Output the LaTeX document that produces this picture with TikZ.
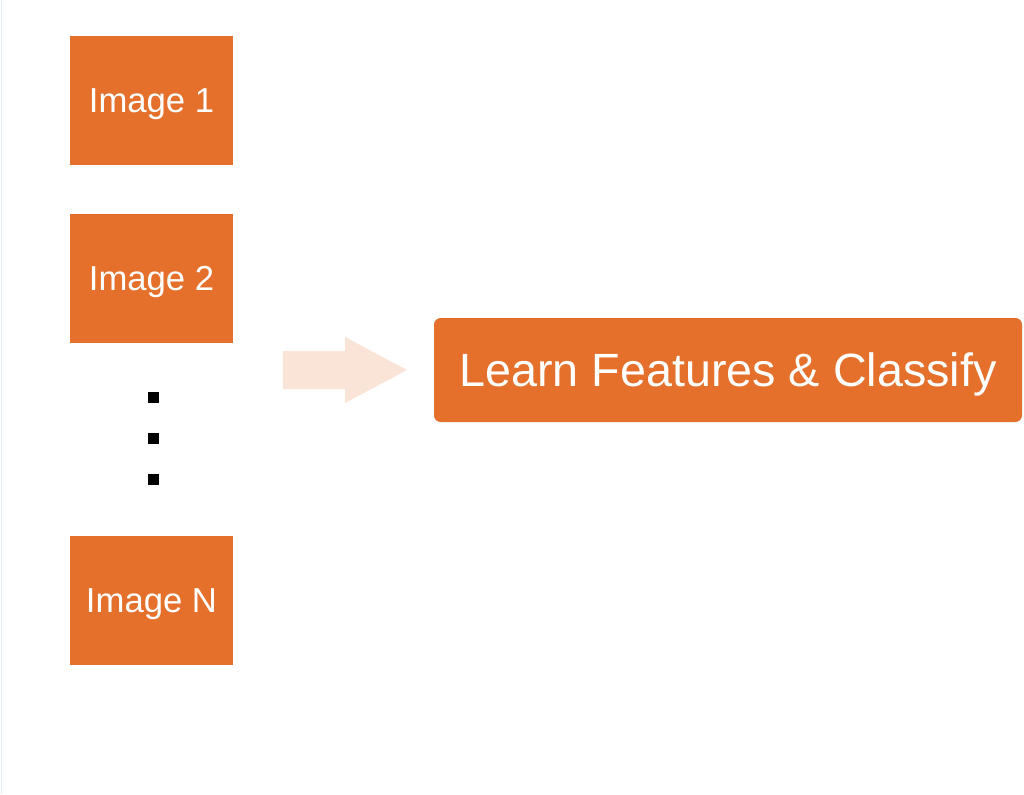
\documentclass[tikz,border=0pt]{standalone}
\usepackage{fontspec}
\setmainfont{Liberation Sans}
\definecolor{boxorange}{RGB}{228,112,44}
\definecolor{arrowpink}{RGB}{250,228,216}
\definecolor{edgeblue}{RGB}{225,236,245}
\begin{document}
\begin{tikzpicture}[x=0.75pt,y=-0.75pt,
  imgbox/.style={fill=boxorange,draw=none,minimum width=163*0.75pt,minimum height=129*0.75pt,inner sep=0pt,text depth=0pt,text=white,font=\fontsize{26}{30}\selectfont},
  bigbox/.style={fill=boxorange,draw=none,rounded corners=5pt,minimum width=588*0.75pt,minimum height=104*0.75pt,inner sep=0pt,text depth=0pt,text=white,font=\fontsize{35}{40}\selectfont},
  dotsq/.style={fill=black,draw=none,minimum size=11*0.75pt,inner sep=0pt}]
\useasboundingbox (0,0) rectangle (1024,794);
\fill[white] (0,0) rectangle (1024,794);
\draw[edgeblue,line width=1.2pt] (1.5,0) -- (1.5,794);
\node[imgbox] (img1) at (151.5,100.5) {Image 1};
\node[imgbox] (img2) at (151.5,278) {Image 2};
\node[imgbox] (imgN) at (151.5,600.5) {Image N};
\node[dotsq] (d1) at (153,397) {};
\node[dotsq] (d2) at (153,438) {};
\node[dotsq] (d3) at (153,479) {};
\node[bigbox] (learn) at (728,370) {Learn Features \& Classify};
\fill[arrowpink] (283,351) -- (345,351) -- (345,337) -- (407,370) -- (345,403) -- (345,389) -- (283,389) -- cycle;
\end{tikzpicture}
\end{document}
